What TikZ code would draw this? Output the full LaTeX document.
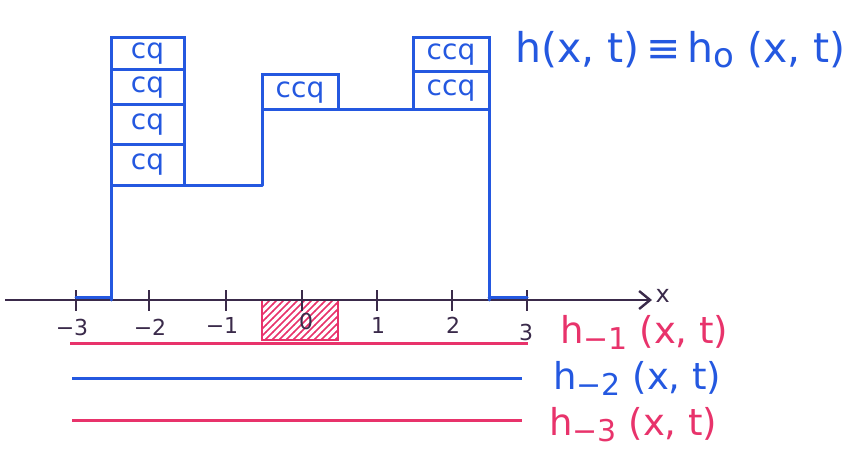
\documentclass[tikz,border=0pt]{standalone}
\usepackage{fontspec}
\setmainfont{DejaVu Sans}
\usetikzlibrary{patterns.meta,arrows.meta}
\definecolor{pen}{HTML}{2458E0}
\definecolor{redpen}{HTML}{E8336B}
\definecolor{axiscol}{HTML}{3A2A4A}
\tikzdeclarepattern{
  name=hatchlines,
  type=uncolored,
  bottom left={(-.5pt,-.5pt)},
  top right={(7.5pt,7.5pt)},
  tile size={(7pt,7pt)},
  code={\draw[line width=1.6pt] (-1pt,-1pt) -- (8pt,8pt);}
}
\tikzset{
  cell/.style={draw=pen, line width=3pt, text=pen, minimum width=73pt, inner sep=0pt, outer sep=0pt, font=\fontsize{28}{28}\selectfont},
  prof/.style={draw=pen, line width=3pt, line cap=round, line join=round},
  tick/.style={draw=axiscol, line width=2.4pt},
  ticklab/.style={text=axiscol, font=\fontsize{22}{22}\selectfont},
  lab/.style={anchor=west, inner sep=0pt, font=\fontsize{37}{37}\selectfont},
}
\newcommand{\lowsub}[1]{\raisebox{-0.3ex}{\fontsize{30}{30}\selectfont #1}}
\begin{document}
\begin{tikzpicture}[x=1pt,y=-1pt]
\useasboundingbox (0,0) rectangle (861,465);
% left stack
\node[cell, minimum height=32pt] (l1) at (147.5,54) {cq};
\node[cell, minimum height=35pt] (l2) at (147.5,87.5) {cq};
\node[cell, minimum height=40pt] (l3) at (147.5,125) {cq};
\node[cell, minimum height=40pt] (l4) at (147.5,165) {cq};
% middle
\node[cell, minimum width=76pt, minimum height=35pt] (m1) at (300,92.5) {ccq};
% right stack
\node[cell, minimum width=76pt, minimum height=34pt] (r1) at (451,55) {ccq};
\node[cell, minimum width=76pt, minimum height=38pt] (r2) at (451,91) {ccq};
% hatched box
\node[draw=redpen, line width=2.6pt, pattern=hatchlines, pattern color=redpen, minimum width=76pt, minimum height=40pt, inner sep=0pt, outer sep=0pt] (hb) at (300,320) {};
% axis
\coordinate (ax0) at (5,300);
\coordinate (ax1) at (652,300);
\draw[draw=axiscol, line width=2.4pt, -{Straight Barb[length=11pt,width=18pt,line width=2.4pt]}] (ax0) -- (ax1);
\node[text=axiscol, anchor=west, font=\fontsize{24}{24}\selectfont] (xl) at (652,296) {x};
\foreach \v/\px in {-3/76,-2/149,-1/226,0/302,1/377,2/452,3/527}{
  \coordinate (t\v a) at (\px,290);
  \coordinate (t\v b) at (\px,311);
  \draw[tick] (t\v a) -- (t\v b);
}
\node[ticklab] (n3) at (72,327) {−3};
\node[ticklab] (n2) at (150,327) {−2};
\node[ticklab] (n1) at (222,325) {−1};
\node[ticklab] (z0) at (306,321) {0};
\node[ticklab] (p1) at (378,325) {1};
\node[ticklab] (p2) at (453,325) {2};
\node[ticklab] (p3) at (526,332) {3};
% profile
\coordinate (pa) at (111,300);
\coordinate (pc) at (262,185);
\coordinate (pf) at (489,300);
\draw[prof] (l4.south west) -- (pa);
\draw[prof] (l4.south east) -- (pc) -- (m1.south west);
\draw[prof] (m1.south east) -- (r2.south west);
\draw[prof] (r2.south east) -- (pf);
\coordinate (ma) at (76,297);
\coordinate (mab) at (111,297);
\coordinate (mb) at (527,297);
\coordinate (mbb) at (489,297);
\draw[prof] (ma) -- (mab);
\draw[prof] (mbb) -- (mb);
% lower lines
\coordinate (r1a) at (70,343);
\coordinate (r1b) at (528,343);
\coordinate (b2a) at (72,378);
\coordinate (b2b) at (522,378);
\coordinate (r3a) at (72,420);
\coordinate (r3b) at (522,420);
\draw[draw=redpen, line width=3pt] (r1a) -- (r1b);
\draw[draw=pen, line width=3pt] (b2a) -- (b2b);
\draw[draw=redpen, line width=3pt] (r3a) -- (r3b);
% labels
\node[lab, text=pen, font=\fontsize{41}{41}\selectfont] (top) at (515,50) {h(x, t)\,≡\,h\raisebox{-0.2ex}{\fontsize{34}{34}\selectfont o} (x, t)};
\node[lab, text=redpen] (h1) at (560,332) {h\lowsub{−1} (x, t)};
\node[lab, text=pen] (h2) at (553,378) {h\lowsub{−2} (x, t)};
\node[lab, text=redpen] (h3) at (549,425) {h\lowsub{−3} (x, t)};
\end{tikzpicture}
\end{document}
